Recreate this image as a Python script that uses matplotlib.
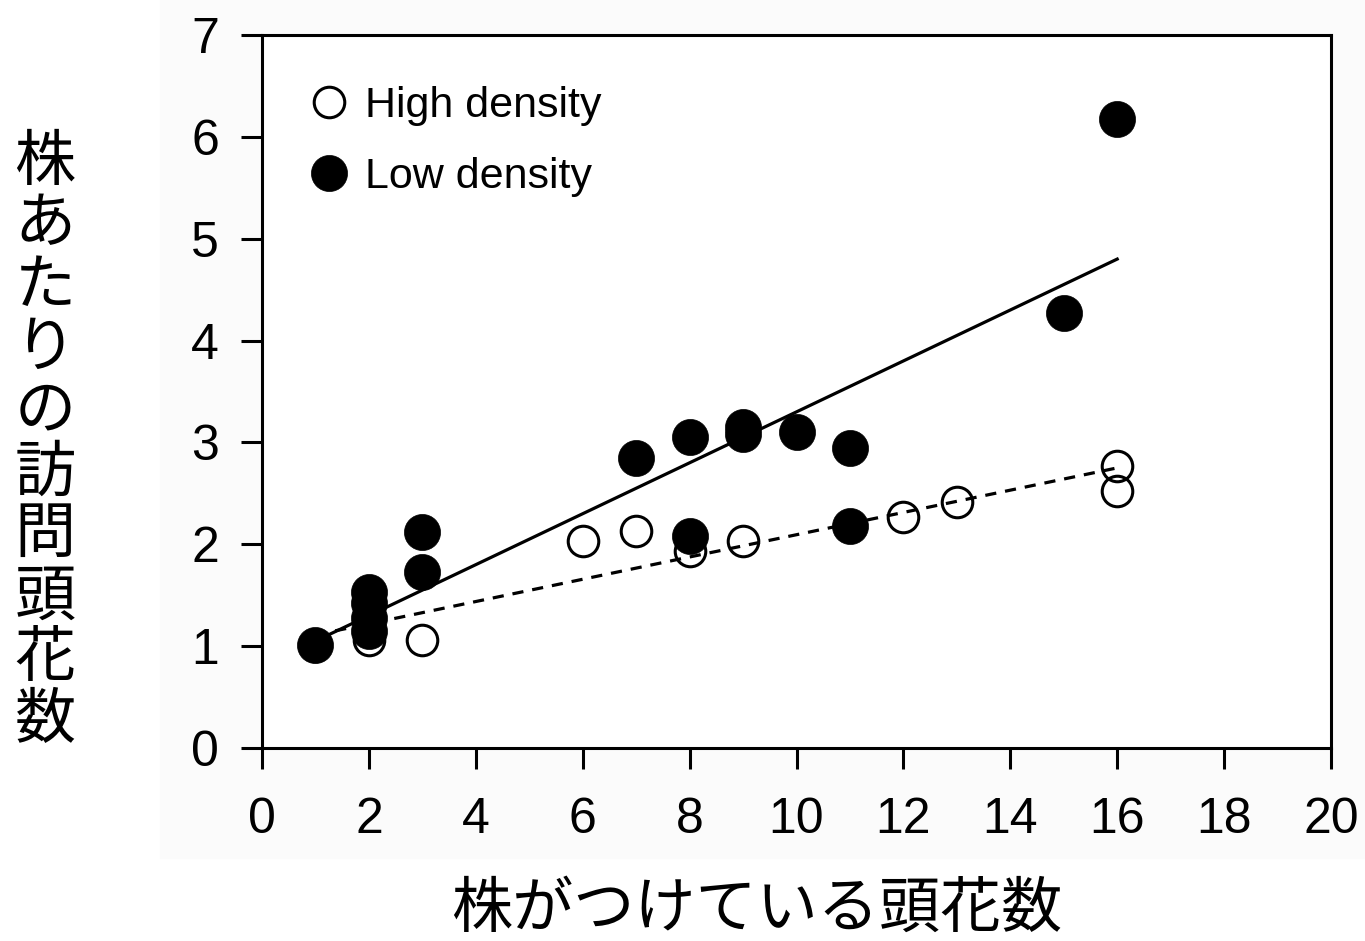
import matplotlib
matplotlib.use("Agg")
import matplotlib.pyplot as plt
from matplotlib.patches import Rectangle

# data
high_x = [1, 2, 3, 6, 7, 8, 9, 12, 13, 16, 16]
high_y = [1.0, 1.06, 1.06, 2.03, 2.13, 1.93, 2.03, 2.27, 2.42, 2.77, 2.52]

low_x = [1, 2, 2, 2, 2, 3, 3, 7, 8, 8, 9, 9, 10, 11, 11, 15, 16]
low_y = [1.01, 1.15, 1.28, 1.42, 1.53, 2.12, 1.73, 2.85, 3.05, 2.08,
         3.15, 3.08, 3.10, 2.95, 2.18, 4.27, 6.18]

# fitted lines (endpoints)
fit_x = [1, 16]
high_fit = [1.11, 2.75]
low_fit = [1.05, 4.80]

xticks = list(range(0, 21, 2))
yticks = list(range(0, 8))
xlabel = "株がつけている頭花数"
ylabel = "株あたりの訪問頭花数"

num_font = "Liberation Sans"
jp_font = ["Noto Sans CJK JP", "DejaVu Sans"]

fig = plt.figure(figsize=(13.65, 9.41), dpi=100)
# faint off-white panel behind the plot
fig.patches.append(Rectangle((160 / 1365, 1 - 858 / 941), 1 - 160 / 1365, 858 / 941,
                             transform=fig.transFigure, color="#fbfbfb", zorder=-1))
ax = fig.add_axes([262 / 1365, 1 - 748 / 941, (1331 - 262) / 1365, (748 - 35) / 941])
ax.set_zorder(1)
ax.patch.set_facecolor("white")

ax.plot(high_x, high_y, "o", ms=22, mfc="none", mec="black", mew=2.2,
        ls="none", zorder=2, label="High density")
ax.plot(fit_x, high_fit, color="black", lw=2.3, ls=(0, (3.5, 2.8)), zorder=3)
ax.plot(fit_x, low_fit, color="black", lw=2.3, zorder=3)
ax.plot(low_x, low_y, "o", ms=26, mfc="black", mec="black", mew=0.5,
        ls="none", zorder=4, label="Low density")

ax.set_xlim(0, 20)
ax.set_ylim(0, 7)
ax.set_xticks(xticks)
ax.set_yticks(yticks)
for s in ax.spines.values():
    s.set_linewidth(2.2)
ax.tick_params(direction="out", length=15, width=2.2, labelsize=36)
ax.tick_params(axis="x", pad=20)
ax.tick_params(axis="y", pad=16)
for lab in ax.get_xticklabels() + ax.get_yticklabels():
    lab.set_fontfamily(num_font)

ax.legend(loc="upper left", bbox_to_anchor=(0.03, 0.953), frameon=False,
          prop={"family": num_font, "size": 31}, handlelength=0.8,
          handletextpad=0.45, labelspacing=0.72, borderaxespad=0)

fig.text(757 / 1365, 1 - 910 / 941, xlabel, family=jp_font, fontsize=44,
         ha="center", va="center")
fig.text(45 / 1365, 1 - 442 / 941, "\n".join(ylabel), family=jp_font, fontsize=44,
         ha="center", va="center", linespacing=0.99)

fig.savefig("out.png", dpi=100)
